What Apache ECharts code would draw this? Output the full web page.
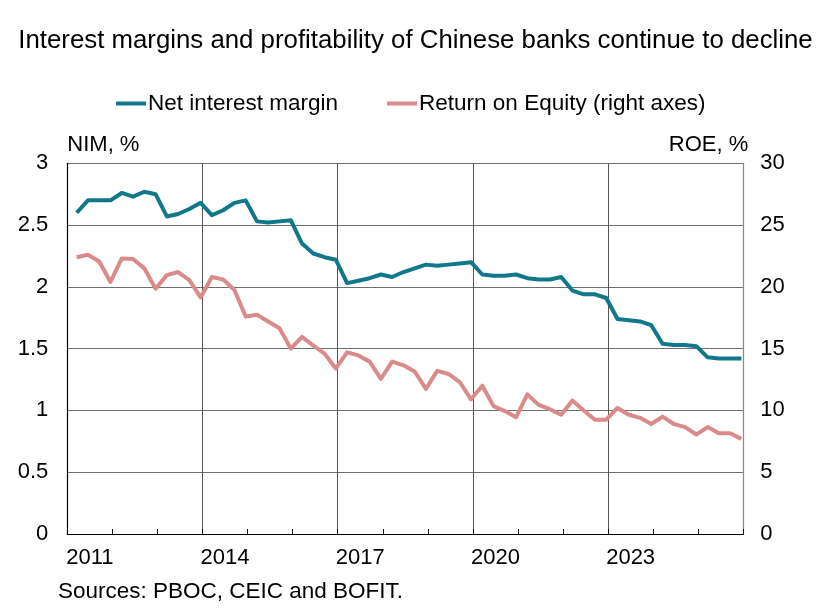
<!DOCTYPE html>
<html>
<head>
<meta charset="utf-8">
<script src="https://cdn.jsdelivr.net/npm/echarts@6/dist/echarts.min.js"></script>
<style>
html,body{margin:0;padding:0;background:#fff;}
#chart{width:831px;height:615px;}
</style>
</head>
<body>
<div id="chart"></div>
<script>
// ---- data ----
var years = ['2011','2012','2013','2014','2015','2016','2017','2018','2019','2020','2021','2022','2023','2024','2025'];
var quartersPerYear = 4;
var nimValues = [
  2.60,2.70,2.70,2.70, 2.76,2.73,2.77,2.75, 2.57,2.59,2.63,2.68, 2.58,2.62,2.68,2.70,
  2.53,2.52,2.53,2.54, 2.35,2.27,2.24,2.22, 2.03,2.05,2.07,2.10, 2.08,2.12,2.15,2.18,
  2.17,2.18,2.19,2.20, 2.10,2.09,2.09,2.10, 2.07,2.06,2.06,2.08, 1.97,1.94,1.94,1.91,
  1.74,1.73,1.72,1.69, 1.54,1.53,1.53,1.52, 1.43,1.42,1.42,1.42
];
var roeValues = [
  22.4,22.6,22.05,20.4, 22.3,22.25,21.5,19.85, 20.95,21.2,20.55,19.15, 20.8,20.6,19.75,17.6,
  17.75,17.2,16.65,15.0, 15.95,15.25,14.6,13.4, 14.7,14.45,13.95,12.55, 13.95,13.65,13.15,11.75,
  13.2,12.95,12.3,10.9, 12.0,10.35,9.95,9.45, 11.3,10.45,10.1,9.65, 10.8,10.0,9.25,9.25,
  10.2,9.65,9.4,8.9, 9.5,8.9,8.65,8.05, 8.65,8.15,8.15,7.7
];
var nimTicks = [0, 3, 0.5];
var roeTicks = [0, 30, 5];

// quarter -> decimal date (middle of the quarter's last month)
function quarterPos(i){
  var y = parseInt(years[Math.floor(i / quartersPerYear)], 10);
  var q = (i % quartersPerYear) + 1;
  return y + (3 * q - 0.5) / 12;
}
function toPairs(arr){ return arr.map(function(v,i){ return [quarterPos(i), v]; }); }

var FONT = '"Liberation Sans", Arial, Helvetica, sans-serif';
var TEAL = '#11788A';
var PINK = '#DA8A8B';

var chart = echarts.init(document.getElementById('chart'), null, {renderer:'canvas'});
chart.setOption({
  animation: false,
  backgroundColor: '#fff',
  textStyle: {fontFamily: FONT, color: '#000'},
  title: {
    text: 'Interest margins and profitability of Chinese banks continue to decline',
    left: 'center', top: 23,
    textStyle: {fontFamily: FONT, fontSize: 25.8, fontWeight: 'normal', color: '#000'}
  },
  legend: {
    left: 111, top: 87,
    itemWidth: 30, itemHeight: 4, itemGap: 49, icon: 'rect',
    textStyle: {fontFamily: FONT, fontSize: 22.5, color: '#000', padding: [0,0,0,-3]},
    data: ['Net interest margin', 'Return on Equity (right axes)']
  },
  grid: {left: 67.3, right: 87.7, top: 163.3, bottom: 81, containLabel: false},
  xAxis: [
    {
      type: 'category', data: years, boundaryGap: true, position: 'bottom',
      axisLine: {show: true, lineStyle: {color: '#000', width: 1.2}},
      axisTick: {show: true, inside: true, length: 5, interval: 0, lineStyle: {color: '#000'}},
      axisLabel: {interval: 2, margin: 13, fontFamily: FONT, fontSize: 22, color: '#000'},
      splitLine: {show: true, interval: 2, lineStyle: {color: '#555', width: 1}}
    },
    {
      type: 'value', min: 2011, max: 2026, show: false
    }
  ],
  yAxis: [
    {
      type: 'value', min: nimTicks[0], max: nimTicks[1], interval: nimTicks[2], position: 'left',
      name: 'NIM, %', nameLocation: 'end', nameGap: 18,
      nameTextStyle: {fontFamily: FONT, fontSize: 22, color: '#000', align: 'left', verticalAlign: 'middle'},
      axisLine: {show: true, lineStyle: {color: '#000', width: 1.2}},
      axisTick: {show: false},
      axisLabel: {margin: 19, fontFamily: FONT, fontSize: 22, color: '#000'},
      splitLine: {show: true, lineStyle: {color: '#6e6e6e', width: 1}}
    },
    {
      type: 'value', min: roeTicks[0], max: roeTicks[1], interval: roeTicks[2], position: 'right',
      name: 'ROE, %', nameLocation: 'end', nameGap: 18,
      nameTextStyle: {fontFamily: FONT, fontSize: 22, color: '#000', align: 'right', verticalAlign: 'middle', padding: [0,-5,0,0]},
      axisLine: {show: true, lineStyle: {color: '#8a8a8a', width: 1.2}},
      axisTick: {show: false},
      axisLabel: {margin: 17, fontFamily: FONT, fontSize: 22, color: '#000'},
      splitLine: {show: false}
    }
  ],
  series: [
    {
      name: 'Net interest margin', type: 'line', xAxisIndex: 1, yAxisIndex: 0,
      data: toPairs(nimValues), symbol: 'none', smooth: false,
      lineStyle: {color: TEAL, width: 4, join: 'round'}, itemStyle: {color: TEAL}, z: 3
    },
    {
      name: 'Return on Equity (right axes)', type: 'line', xAxisIndex: 1, yAxisIndex: 1,
      data: toPairs(roeValues), symbol: 'none', smooth: false,
      lineStyle: {color: PINK, width: 4, join: 'round'}, itemStyle: {color: PINK}, z: 2
    }
  ],
  graphic: [
    {
      type: 'text', left: 58, top: 580,
      style: {text: 'Sources: PBOC, CEIC and BOFIT.', font: '22.5px ' + FONT, fill: '#000'}
    }
  ]
});
</script>
</body>
</html>
